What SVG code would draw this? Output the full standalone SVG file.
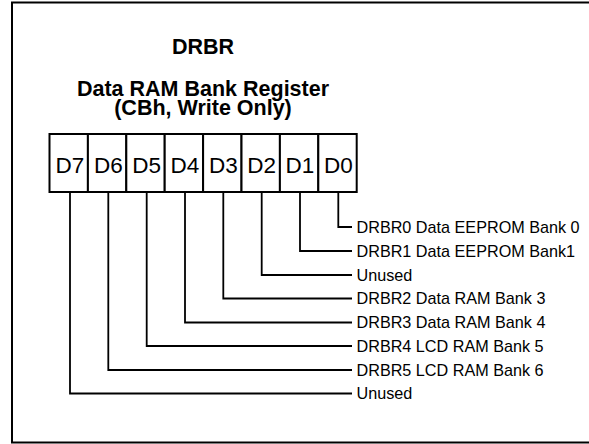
<svg xmlns="http://www.w3.org/2000/svg" width="589" height="444" viewBox="0 0 589 444">
  <style>
    .frame { fill: #ffffff; stroke: #000000; stroke-width: 2; }
    .title { font-family: "Liberation Sans", Arial, sans-serif; font-weight: bold; font-size: 21.5px; fill: #000000; text-anchor: middle; }
    .cell { fill: #ffffff; stroke: #000000; stroke-width: 2; }
    .bit { font-family: "Liberation Sans", Arial, sans-serif; font-size: 22.5px; fill: #000000; text-anchor: middle; }
    .lead { fill: none; stroke: #000000; stroke-width: 1.8; }
    .label { font-family: "Liberation Sans", Arial, sans-serif; font-size: 16.2px; fill: #000000; }
  </style>

  <!-- outer frame -->
  <rect class="frame" x="12" y="2.5" width="580" height="440"/>

  <!-- headings -->
  <g id="heading">
    <text class="title" x="203" y="53.5">DRBR</text>
    <text class="title" x="203" y="95.5">Data RAM Bank Register</text>
    <text class="title" x="203" y="115">(CBh, Write Only)</text>
  </g>

  <!-- register cells, D7 (MSB) to D0 -->
  <g id="register">
    <g id="bit-d7"><rect class="cell" x="49.5" y="134" width="38.4" height="58"/><text class="bit" x="70" y="173">D7</text></g>
    <g id="bit-d6"><rect class="cell" x="87.9" y="134" width="38.4" height="58"/><text class="bit" x="108.3" y="173">D6</text></g>
    <g id="bit-d5"><rect class="cell" x="126.3" y="134" width="38.4" height="58"/><text class="bit" x="146.7" y="173">D5</text></g>
    <g id="bit-d4"><rect class="cell" x="164.7" y="134" width="38.4" height="58"/><text class="bit" x="185" y="173">D4</text></g>
    <g id="bit-d3"><rect class="cell" x="203.1" y="134" width="38.4" height="58"/><text class="bit" x="223.3" y="173">D3</text></g>
    <g id="bit-d2"><rect class="cell" x="241.5" y="134" width="38.4" height="58"/><text class="bit" x="261.7" y="173">D2</text></g>
    <g id="bit-d1"><rect class="cell" x="279.9" y="134" width="38.4" height="58"/><text class="bit" x="300" y="173">D1</text></g>
    <g id="bit-d0"><rect class="cell" x="318.3" y="134" width="38.4" height="58"/><text class="bit" x="338.3" y="173">D0</text></g>
  </g>

  <!-- leader lines from each bit to its description -->
  <g id="connectors">
    <polyline class="lead" points="338.3,193 338.3,227 352,227"/>
    <polyline class="lead" points="300,193 300,251 352,251"/>
    <polyline class="lead" points="261.7,193 261.7,275 352,275"/>
    <polyline class="lead" points="223.3,193 223.3,298.5 352,298.5"/>
    <polyline class="lead" points="185,193 185,322.5 352,322.5"/>
    <polyline class="lead" points="146.7,193 146.7,346 352,346"/>
    <polyline class="lead" points="108.3,193 108.3,370 352,370"/>
    <polyline class="lead" points="70,193 70,393.5 352,393.5"/>
  </g>

  <!-- bit descriptions -->
  <g id="labels">
    <text class="label" x="356.5" y="232.7">DRBR0 Data EEPROM Bank 0</text>
    <text class="label" x="356.5" y="256.7">DRBR1 Data EEPROM Bank1</text>
    <text class="label" x="356.5" y="280.7">Unused</text>
    <text class="label" x="356.5" y="304.2">DRBR2 Data RAM Bank 3</text>
    <text class="label" x="356.5" y="328.2">DRBR3 Data RAM Bank 4</text>
    <text class="label" x="356.5" y="351.7">DRBR4 LCD RAM Bank 5</text>
    <text class="label" x="356.5" y="375.7">DRBR5 LCD RAM Bank 6</text>
    <text class="label" x="356.5" y="399.2">Unused</text>
  </g>
</svg>
